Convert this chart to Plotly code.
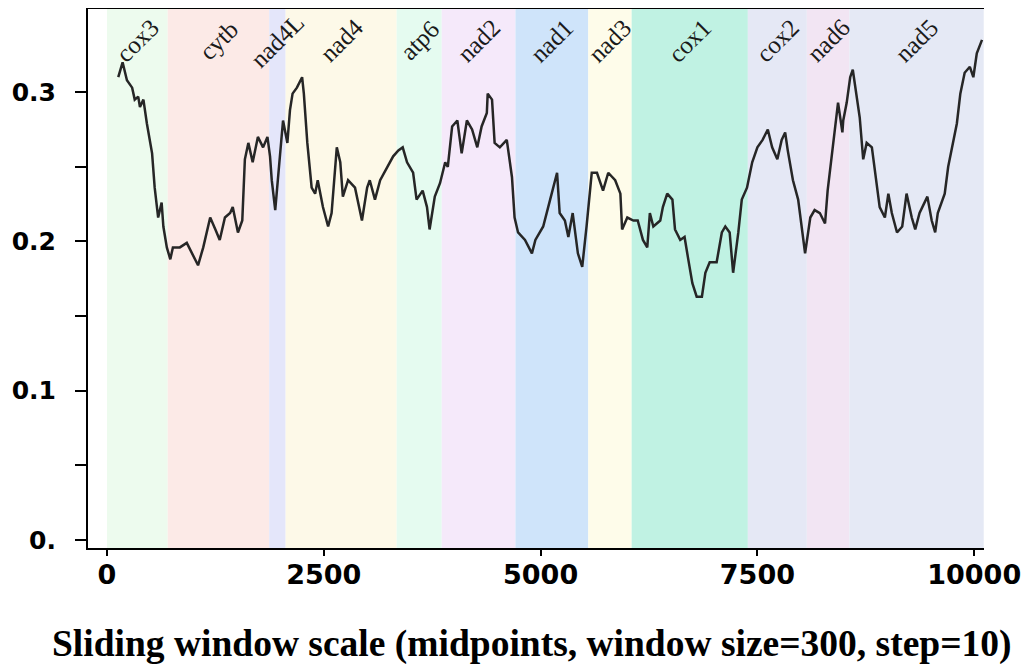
import plotly.graph_objects as go

# ---- data ----
genes = ["cox3", "cytb", "nad4L", "nad4", "atp6", "nad2", "nad1", "nad3",
         "cox1", "cox2", "nad6", "nad5"]
gene_start = [0, 700, 1870, 2060, 3340, 3860, 4710, 5550, 6050, 7390, 8070, 8560]
gene_end = [700, 1870, 2060, 3340, 3860, 4710, 5550, 6050, 7390, 8070, 8560, 10110]
gene_colors = ["#EDFBEE", "#FCEAE7", "#E4E6FA", "#FDF9E8", "#E5FBF0", "#F5E9FA",
               "#CFE4FA", "#FEFCEA", "#C0F2E3", "#E5E8F5", "#F2E5F3", "#E5E9F5"]

midpoints = [130, 180, 230, 290, 320, 360, 380, 420, 460, 520, 550, 590, 630, 650,
             690, 730, 760, 840, 920, 980, 1050, 1110, 1190, 1250, 1300, 1360, 1420,
             1450, 1510, 1560, 1590, 1630, 1680, 1740, 1800, 1850, 1880, 1900, 1940,
             1970, 2020, 2030, 2080, 2110, 2140, 2190, 2250, 2270, 2310, 2360, 2400,
             2430, 2490, 2550, 2590, 2650, 2690, 2720, 2780, 2860, 2940, 3000, 3030,
             3090, 3150, 3230, 3300, 3360, 3410, 3460, 3530, 3570, 3640, 3690, 3720,
             3780, 3840, 3900, 3930, 3980, 4040, 4090, 4150, 4210, 4270, 4320, 4380,
             4390, 4440, 4470, 4530, 4610, 4670, 4700, 4740, 4820, 4900, 4940, 5030,
             5110, 5190, 5220, 5280, 5320, 5370, 5430, 5480, 5530, 5590, 5650, 5720,
             5780, 5860, 5920, 5940, 6000, 6070, 6120, 6180, 6230, 6260, 6300, 6380,
             6410, 6460, 6520, 6550, 6610, 6660, 6700, 6750, 6800, 6860, 6900, 6950,
             7030, 7090, 7130, 7180, 7220, 7280, 7320, 7380, 7440, 7500, 7560, 7620,
             7670, 7730, 7780, 7820, 7850, 7910, 7970, 8010, 8050, 8110, 8160, 8220,
             8280, 8310, 8360, 8390, 8430, 8480, 8490, 8530, 8570, 8600, 8640, 8680,
             8720, 8760, 8820, 8860, 8910, 8970, 9010, 9050, 9110, 9170, 9220, 9280,
             9320, 9370, 9460, 9510, 9550, 9580, 9660, 9700, 9760, 9800, 9840, 9890,
             9950, 9990, 10030, 10090]

values = [0.310, 0.320, 0.308, 0.303, 0.295, 0.297, 0.290, 0.295, 0.279, 0.259, 0.236,
          0.216, 0.226, 0.210, 0.196, 0.188, 0.196, 0.196, 0.199, 0.192, 0.184, 0.196,
          0.216, 0.208, 0.201, 0.216, 0.219, 0.223, 0.206, 0.214, 0.255, 0.266, 0.253,
          0.270, 0.263, 0.270, 0.257, 0.241, 0.221, 0.241, 0.273, 0.281, 0.266, 0.288,
          0.299, 0.303, 0.310, 0.299, 0.266, 0.236, 0.232, 0.241, 0.223, 0.210, 0.219,
          0.263, 0.253, 0.230, 0.241, 0.236, 0.214, 0.236, 0.241, 0.228, 0.241, 0.250,
          0.257, 0.261, 0.263, 0.253, 0.246, 0.228, 0.234, 0.223, 0.208, 0.230, 0.239,
          0.253, 0.250, 0.277, 0.281, 0.259, 0.281, 0.275, 0.263, 0.277, 0.286, 0.299,
          0.295, 0.266, 0.263, 0.268, 0.243, 0.216, 0.206, 0.201, 0.192, 0.201, 0.210,
          0.228, 0.246, 0.219, 0.214, 0.203, 0.219, 0.192, 0.183, 0.210, 0.246, 0.246,
          0.234, 0.246, 0.241, 0.232, 0.208, 0.216, 0.214, 0.214, 0.201, 0.196, 0.219,
          0.210, 0.214, 0.223, 0.232, 0.228, 0.208, 0.201, 0.203, 0.189, 0.172, 0.163,
          0.163, 0.179, 0.186, 0.186, 0.206, 0.210, 0.206, 0.179, 0.206, 0.228, 0.236,
          0.253, 0.263, 0.268, 0.275, 0.263, 0.255, 0.268, 0.273, 0.261, 0.241, 0.228,
          0.208, 0.192, 0.216, 0.221, 0.219, 0.212, 0.234, 0.259, 0.277, 0.293, 0.273,
          0.281, 0.293, 0.310, 0.315, 0.299, 0.283, 0.255, 0.266, 0.263, 0.246, 0.223,
          0.216, 0.232, 0.219, 0.206, 0.210, 0.232, 0.216, 0.208, 0.219, 0.230, 0.214,
          0.206, 0.219, 0.232, 0.250, 0.268, 0.279, 0.299, 0.313, 0.317, 0.310, 0.326,
          0.335]

x_tick_vals = [0, 2500, 5000, 7500, 10000]
x_tick_text = ["0", "2500", "5000", "7500", "10000"]
y_tick_vals = [0, 0.05, 0.1, 0.15, 0.2, 0.25, 0.3]
y_tick_text = ["0.", "", "0.1", "", "0.2", "", "0.3"]

title_text = "Sliding window scale (midpoints, window size=300, step=10)"

# ---- figure ----
fig = go.Figure()

shapes = []
for s, e, c in zip(gene_start, gene_end, gene_colors):
    shapes.append(dict(type="rect", xref="x", yref="paper", x0=s, x1=e, y0=0, y1=1,
                       fillcolor=c, line=dict(width=0), layer="below"))

annotations = []
for g, s, e in zip(genes, gene_start, gene_end):
    annotations.append(dict(x=(s + e) / 2, y=0.942, xref="x", yref="paper", text=g,
                            showarrow=False, textangle=-45,
                            font=dict(family="Liberation Serif", size=25, color="#1a1a1a"),
                            xanchor="center", yanchor="middle"))

annotations.append(dict(x=0.4955, y=-0.178, xref="paper", yref="paper", text=title_text,
                        showarrow=False, xanchor="center", yanchor="middle",
                        font=dict(family="Liberation Serif", size=37.5, color="black",
                                  weight="bold")))

fig.add_trace(go.Scatter(x=midpoints, y=values, mode="lines",
                         line=dict(color="#262626", width=2.5), showlegend=False))

fig.update_layout(
    width=1018, height=656,
    margin=dict(l=80, r=42, t=1, b=116, autoexpand=False),
    paper_bgcolor="white", plot_bgcolor="white",
    shapes=shapes, annotations=annotations,
    xaxis=dict(range=[-219, 10113], tickvals=x_tick_vals, ticktext=x_tick_text,
               showgrid=False, zeroline=False, showline=True, linecolor="black",
               linewidth=2, mirror=True, ticks="outside", ticklen=6, tickwidth=2,
               tickcolor="black", automargin=False, ticklabelstandoff=-4,
               tickfont=dict(family="DejaVu Sans", size=27, color="black", weight="bold")),
    yaxis=dict(range=[-0.0054, 0.3557], tickvals=y_tick_vals, ticktext=y_tick_text,
               showgrid=False, zeroline=False, showline=True, linecolor="black",
               linewidth=2, mirror=False, ticks="outside", ticklen=11, tickwidth=2,
               tickcolor="black", ticklabelstandoff=14, automargin=False,
               tickfont=dict(family="DejaVu Sans", size=25, color="black", weight="bold")),
)

fig.write_html("out.html")
